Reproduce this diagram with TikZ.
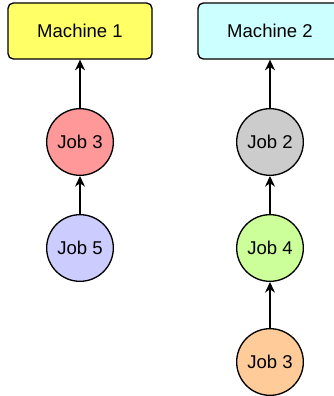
\documentclass[tikz,border=0pt]{standalone}
\usepackage{fontspec}
\setmainfont{Liberation Sans}
\usetikzlibrary{arrows.meta}

\definecolor{machA}{HTML}{FFFF66}
\definecolor{machB}{HTML}{CCFFFF}
\definecolor{jobRed}{HTML}{FF9999}
\definecolor{jobBlue}{HTML}{CCCCFF}
\definecolor{jobGrey}{HTML}{CCCCCC}
\definecolor{jobGreen}{HTML}{CCFF99}
\definecolor{jobOrange}{HTML}{FFCC99}

\tikzset{
  machine/.style={draw, line width=1pt, rounded corners=4pt, minimum width=108pt,
    minimum height=42pt, inner sep=0pt, font=\fontsize{13.9}{16}\selectfont},
  job/.style={draw, line width=1pt, circle, minimum size=50pt, inner sep=0pt,
    font=\fontsize{13.9}{16}\selectfont},
  link/.style={-{Stealth[length=8pt,width=7.5pt]}, line width=1pt}
}

\begin{document}
\begin{tikzpicture}[x=0.75pt,y=-0.75pt]
    \useasboundingbox (0,0) rectangle (334,396);

    % Machines
    \node[machine, fill=machA] (m1) at (80,31) {Machine 1};
    \node[machine, fill=machB] (m2) at (270,31) {Machine 2};

    % Jobs on machine 1
    \node[job, fill=jobRed] (j3a) at (80,142) {Job 3};
    \node[job, fill=jobBlue] (j5) at (80,248) {Job 5};

    % Jobs on machine 2
    \node[job, fill=jobGrey] (j2) at (270,142) {Job 2};
    \node[job, fill=jobGreen] (j4) at (270,248) {Job 4};
    \node[job, fill=jobOrange] (j3b) at (270,362) {Job 3};

    % Arrows
    \draw[link] (j3a) -- (m1);
    \draw[link] (j5) -- (j3a);
    \draw[link] (j2) -- (m2);
    \draw[link] (j4) -- (j2);
    \draw[link] (j3b) -- (j4);
\end{tikzpicture}
\end{document}
